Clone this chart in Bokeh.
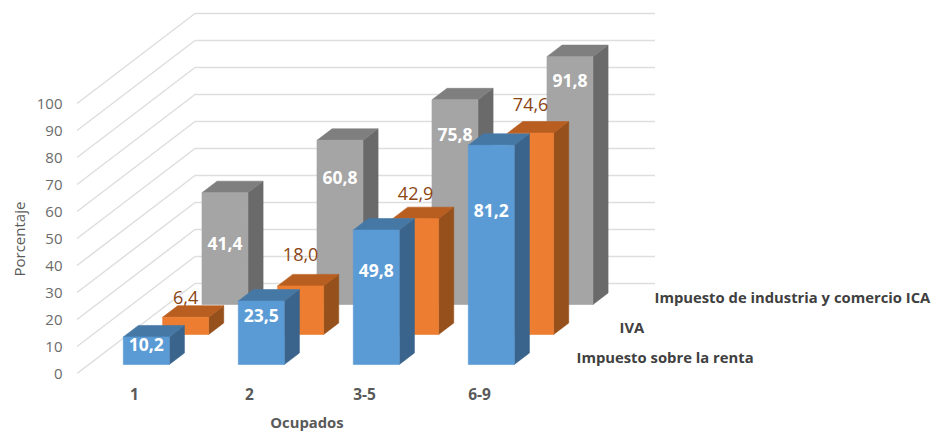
from bokeh.plotting import figure
from bokeh.models import Label, ColumnDataSource, FixedTicker, Title, LinearAxis
from bokeh.embed import file_html
from bokeh.resources import INLINE
from bokeh.core.properties import value

categories = ["1", "2", "3-5", "6-9"]
renta = [10.2, 23.5, 49.8, 81.2]
iva = [6.4, 18.0, 42.9, 74.6]
ica = [41.4, 60.8, 75.8, 91.8]
series_names = ["Impuesto sobre la renta", "IVA", "Impuesto de industria y comercio ICA"]
y_ticks = [0, 10, 20, 30, 40, 50, 60, 70, 80, 90, 100]

# Oblique projection of the 3D scene, expressed in the axes' own units
PX_X, PX_Y = 115.0, 2.7        # pixels per category, pixels per percentage point
X0, Y0 = 134.0, 373.0          # page pixel of category 0, value 0, at the front of the floor
DEPTH_X, DEPTH_Y = 118.0, 90.0 # pixel shift of the whole depth
HALF_W = 0.2
BAR_DEPTH = 0.128
Z = [0.1, 0.4333, 0.7667]

W, H = 932, 436
LEFT, BOTTOM = 68, 63

def dx(z):
    return z * DEPTH_X / PX_X
def dy(z):
    return z * DEPTH_Y / PX_Y
def sx(px):
    return (px - X0) / PX_X
def sy(px):
    return (Y0 - px) / PX_Y

p = figure(width=W, height=H, output_backend="svg", toolbar_location=None,
           x_range=(sx(LEFT), sx(W)),
           y_range=(sy(H - BOTTOM), sy(0)),
           min_border_left=LEFT, min_border_bottom=BOTTOM, min_border_top=0, min_border_right=0,
           outline_line_color=None)
p.grid.visible = False

FONT = "Open Sans"
p.yaxis.ticker = FixedTicker(ticks=y_ticks)
p.yaxis.axis_line_color = None
p.yaxis.major_tick_line_color = None
p.yaxis.minor_tick_line_color = None
p.yaxis.major_tick_out = 0
p.yaxis.major_label_standoff = 6
p.yaxis.major_label_text_font = FONT
p.yaxis.major_label_text_font_size = "15px"
p.yaxis.major_label_text_color = "#6b6b6b"

p.xaxis.ticker = FixedTicker(ticks=list(range(len(categories))))
p.xaxis.major_label_overrides = {i: c for i, c in enumerate(categories)}
p.xaxis.axis_line_color = None
p.xaxis.major_tick_line_color = None
p.xaxis.minor_tick_line_color = None
p.xaxis.major_tick_out = 0
p.xaxis.major_label_standoff = 14
p.xaxis.major_label_text_font = FONT
p.xaxis.major_label_text_font_size = "15.5px"
p.xaxis.major_label_text_font_style = "bold"
p.xaxis.major_label_text_color = "#595959"

# "Ocupados" sits under the middle of the categories, below the tick labels
title_axis = LinearAxis(ticker=FixedTicker(ticks=[1.5]), major_label_overrides={1.5: "Ocupados"},
                        axis_line_color=None, major_tick_line_color=None, minor_tick_line_color=None,
                        major_tick_out=0, major_label_standoff=9, major_label_text_font=FONT,
                        major_label_text_font_size="14.8px", major_label_text_font_style="bold",
                        major_label_text_color="#595959")
p.add_layout(title_axis, "below")

# Walls: gridlines run along the side wall, then along the back wall
n = len(categories)
for t in y_ticks:
    xs = [-0.5, -0.5 + dx(1), n - 0.5 + dx(1)]
    ys = [t, t + dy(1), t + dy(1)]
    p.line(xs, ys, line_color="#dedede", line_width=1.5)

# Bars, furthest series first
styles = [
    (renta, "#5b9bd5", "#4678a6", "#3a648c"),
    (iva, "#ed7d31", "#b85e20", "#95501c"),
    (ica, "#a5a5a5", "#7f7f7f", "#6a6a6a"),
]
for k in [2, 1, 0]:
    vals, front, top, side = styles[k]
    z = Z[k]
    xs, ys, cols = [], [], []
    for i, v in enumerate(vals):
        x0 = i - HALF_W + dx(z)
        x1 = i + HALF_W + dx(z)
        b = dy(z)
        t = v + dy(z)
        ox, oy = dx(BAR_DEPTH), dy(BAR_DEPTH)
        xs += [[x1, x1 + ox, x1 + ox, x1], [x0, x0 + ox, x1 + ox, x1], [x0, x1, x1, x0]]
        ys += [[b, b + oy, t + oy, t], [t, t + oy, t + oy, t], [b, b, t, t]]
        cols += [side, top, front]
    p.patches(xs, ys, fill_color=cols, line_color=cols, line_width=0.6)

# Data labels (vertical nudges in pixels, relative to the bar top)
nudges = [
    [-8, -14, -40, -65],
    [20, 31, 25, 29],
    [-51, -37, -35, -24],
]
for k in [2, 1, 0]:
    vals = styles[k][0]
    z = Z[k]
    src = ColumnDataSource(dict(
        x=[i + dx(z) for i in range(n)],
        y=[v + dy(z) + nudges[k][i] / PX_Y for i, v in enumerate(vals)],
        t=[f"{v:.1f}".replace(".", ",") for v in vals]))
    p.text("x", "y", text="t", source=src, text_align="center", text_baseline="middle",
           text_font=value(FONT), text_font_size="18px" if k == 1 else "17.5px",
           text_font_style="normal" if k == 1 else "bold",
           text_color="#8a4513" if k == 1 else "#ffffff")

# Series names along the depth axis
name_px = [(576, 356), (619, 326), (654, 296)]
for name, (px, py) in zip(series_names, name_px):
    p.add_layout(Label(x=sx(px), y=sy(py), text=name, text_align="left", text_baseline="middle",
                       text_font=FONT, text_font_size="14.8px", text_font_style="bold",
                       text_color="#404040"))

# Vertical axis title, placed off-centre as in the reference
p.add_layout(Title(text="Porcentaje", align="left", offset=97, standoff=10,
                   text_font=FONT, text_font_size="15px", text_font_style="normal",
                   text_color="#595959"), "left")

open("out.html", "w").write(file_html(p, INLINE))
